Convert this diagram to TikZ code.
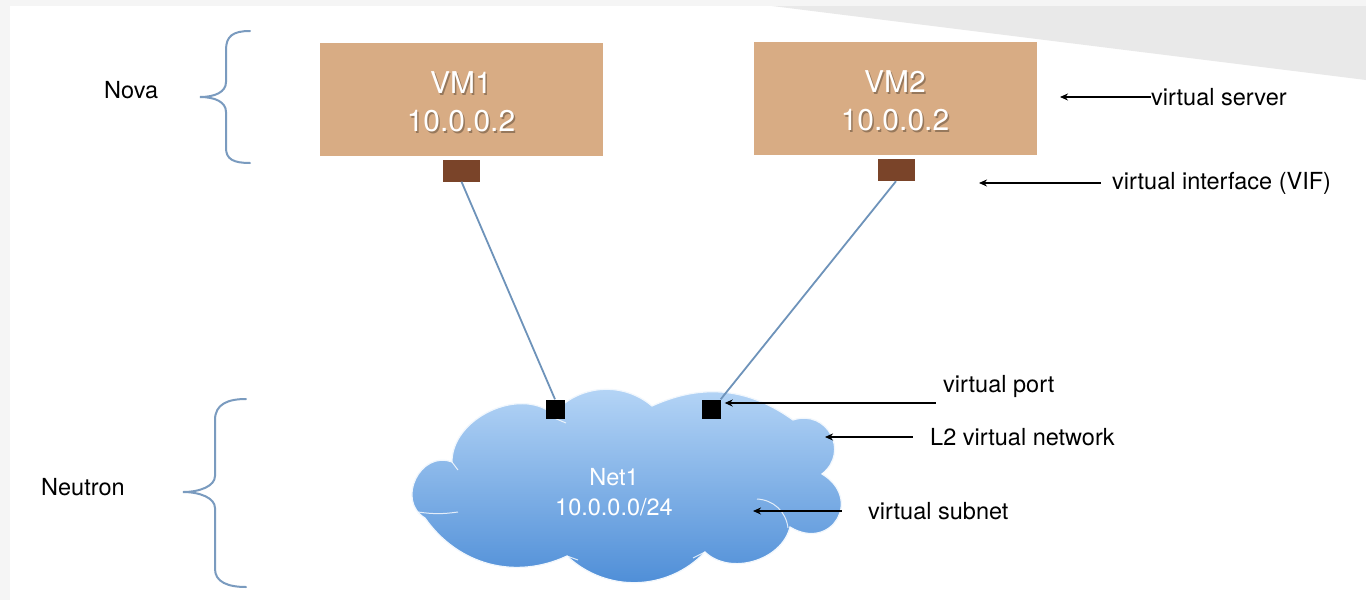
\documentclass[tikz,border=0pt]{standalone}
\usepackage{fontspec}
\setmainfont{TeX Gyre Heros}
\usetikzlibrary{arrows.meta}
\definecolor{vmtan}{HTML}{D8AC84}
\definecolor{vifbrown}{HTML}{7A4429}
\definecolor{linkblue}{HTML}{6E93BA}
\definecolor{braceblue}{HTML}{7A9BBF}
\definecolor{cloudtop}{HTML}{B8D7F7}
\definecolor{cloudbot}{HTML}{4A8BD6}
\definecolor{stripgray}{HTML}{F5F5F5}
\definecolor{trigray}{HTML}{E9E9E9}
\tikzset{
 vmbox/.style={fill=vmtan, minimum width=283pt, minimum height=113pt, inner sep=0pt},
 vmtext/.style={text=white, align=center, font=\fontsize{30}{38}\selectfont, inner sep=0pt},
 vmshadow/.style={text=black, opacity=0.3, align=center, font=\fontsize{30}{38}\selectfont, inner sep=0pt},
 vif/.style={fill=vifbrown, minimum width=37pt, minimum height=22pt, inner sep=0pt},
 portbox/.style={fill=black, minimum width=19pt, minimum height=19pt, inner sep=0pt},
 link/.style={draw=linkblue, line width=1.8pt},
 pointer/.style={draw=black, line width=1.6pt, {Stealth[length=8pt,width=7pt]}-},
 lbl/.style={anchor=west, inner sep=0pt, font=\fontsize{23.5}{28}\selectfont},
 bracepath/.style={draw=braceblue, line width=2pt, line cap=round},
 cloudtext/.style={text=white, align=center, font=\fontsize{23.5}{30}\selectfont, inner sep=0pt},
 cloudline/.style={draw=white, opacity=0.8, line width=1pt},
}
\begin{document}
\begin{tikzpicture}[x=1pt,y=-1pt]
\useasboundingbox (0,0) rectangle (1366,600);
% background
\fill[white] (0,0) rectangle (1366,600);
\fill[stripgray] (0,0) rectangle (1366,6);
\fill[stripgray] (0,0) rectangle (10,600);
\fill[trigray] (772,6) -- (1366,6) -- (1366,80) -- cycle;

% braces
\draw[bracepath] (250,31) .. controls (233,31) and (226,36) .. (226,50) -- (226,82)
  .. controls (226,92) and (215,97) .. (200,97)
  .. controls (215,97) and (226,102) .. (226,112) -- (226,148)
  .. controls (226,159) and (233,163) .. (250,163);
\draw[bracepath] (246,399) .. controls (228,399) and (215,404) .. (215,420) -- (215,476)
  .. controls (215,486) and (200,492) .. (183,492)
  .. controls (200,492) and (215,498) .. (215,508) -- (215,569)
  .. controls (215,582) and (228,587) .. (246,587);
\node[lbl] (nova) at (104,90) {Nova};
\node[lbl] (neutron) at (41,487) {Neutron};

% cloud
\shadedraw[top color=cloudtop, bottom color=cloudbot, draw=white!80!cloudtop, line width=1.2pt]
  (452,462) to[bend left=65] (553,414)
  to[bend left=45] (652,406)
  to[bend left=30] (793,420)
  to[bend left=80, looseness=1.5] (822,474)
  to[bend left=90, looseness=2.0] (790,527)
  to[bend left=60] (705,552)
  to[bend left=45] (567,556)
  to[bend left=40] (425,518)
  to[bend left=85, looseness=1.4] (452,462) -- cycle;
\draw[cloudline] (757,499) to[bend left=40] (788,528);
\draw[cloudline] (822,474) -- (836,464);
\draw[cloudline] (418,512) to[bend right=8] (458,512);
\draw[cloudline] (547,415) -- (566,423);
\draw[cloudline] (452,462) -- (458,470);
\draw[cloudline] (705,552) -- (693,558);
\draw[cloudline] (567,556) -- (578,560);
\node[cloudtext] (net1) at (614,492) {Net1\\10.0.0.0/24};

% VMs
\node[vmbox] (vm1) at (461,99) {};
\node[vmbox] (vm2) at (895,98) {};
\node[vmshadow] (vm1s) at (462.5,103.5) {VM1\\10.0.0.2};
\node[vmtext] (vm1t) at (461,102) {VM1\\10.0.0.2};
\node[vmshadow] (vm2s) at (896.5,102.5) {VM2\\10.0.0.2};
\node[vmtext] (vm2t) at (895,101) {VM2\\10.0.0.2};
\node[vif] (vif1) at (461.5,170.5) {};
\node[vif] (vif2) at (896,170) {};

% ports
\node[portbox] (port1) at (555,409) {};
\node[portbox] (port2) at (711,409) {};

% links
\draw[link] (vif1.south) -- (port1.north);
\draw[link] (vif2.south) -- (port2.north east);

% annotations
\node[lbl] (lserver) at (1151,97) {virtual server};
\coordinate (aserver) at (1060,97);
\draw[pointer] (aserver) -- (lserver.west);

\node[lbl] (lvif) at (1112,183) {virtual interface (VIF)};
\coordinate (avif) at (979,183);
\coordinate (tvif) at (1101,183);
\draw[pointer] (avif) -- (tvif);

\node[lbl] (lport) at (943,386) {virtual port};
\coordinate (tport) at (936,403);
\draw[pointer] (port2.east) ++(4,-6) coordinate (aport) (aport) -- (tport);

\node[lbl] (lnet) at (930,437) {L2 virtual network};
\coordinate (anet) at (825,437);
\coordinate (tnet) at (913,437);
\draw[pointer] (anet) -- (tnet);

\node[lbl] (lsub) at (868,511) {virtual subnet};
\coordinate (asub) at (753,511);
\coordinate (tsub) at (842,511);
\draw[pointer] (asub) -- (tsub);
\end{tikzpicture}
\end{document}
